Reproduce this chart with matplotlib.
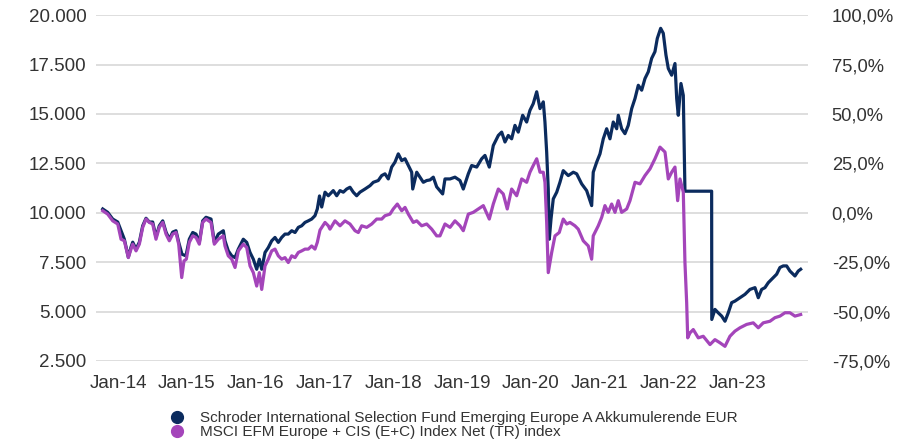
import matplotlib
matplotlib.use("Agg")
import matplotlib.pyplot as plt
from matplotlib.lines import Line2D
from matplotlib.ticker import FuncFormatter, FixedLocator

# ---------------- data ----------------
fund_name = "Schroder International Selection Fund Emerging Europe A Akkumulerende EUR"
index_name = "MSCI EFM Europe + CIS (E+C) Index Net (TR) index"

fund_t = [2013.778, 2013.850, 2013.923, 2013.996, 2014.044, 2014.092, 2014.150, 2014.189, 2014.214, 2014.262,
          2014.310, 2014.359, 2014.407, 2014.455, 2014.504, 2014.552, 2014.600, 2014.650, 2014.698, 2014.746,
          2014.795, 2014.843, 2014.882, 2014.930, 2014.988, 2015.036, 2015.086, 2015.134, 2015.182, 2015.231,
          2015.279, 2015.352, 2015.400, 2015.458, 2015.531, 2015.555, 2015.603, 2015.653, 2015.701, 2015.749,
          2015.821, 2015.871, 2015.919, 2015.967, 2016.016, 2016.054, 2016.089, 2016.137, 2016.185, 2016.234,
          2016.282, 2016.330, 2016.379, 2016.427, 2016.475, 2016.525, 2016.573, 2016.621, 2016.670, 2016.718,
          2016.766, 2016.815, 2016.863, 2016.897, 2016.929, 2016.961, 2017.009, 2017.057, 2017.129, 2017.179,
          2017.227, 2017.275, 2017.324, 2017.372, 2017.420, 2017.469, 2017.517, 2017.590, 2017.663, 2017.711,
          2017.783, 2017.833, 2017.881, 2017.929, 2017.978, 2018.026, 2018.074, 2018.124, 2018.172, 2018.220,
          2018.269, 2018.284, 2018.342, 2018.390, 2018.438, 2018.487, 2018.535, 2018.583, 2018.632, 2018.719,
          2018.753, 2018.826, 2018.898, 2018.971, 2019.019, 2019.092, 2019.141, 2019.214, 2019.286, 2019.334,
          2019.397, 2019.455, 2019.528, 2019.577, 2019.625, 2019.673, 2019.722, 2019.770, 2019.818, 2019.882,
          2019.940, 2019.988, 2020.036, 2020.086, 2020.134, 2020.182, 2020.206, 2020.231, 2020.254, 2020.269,
          2020.294, 2020.327, 2020.377, 2020.424, 2020.472, 2020.545, 2020.618, 2020.667, 2020.740, 2020.812,
          2020.885, 2020.908, 2020.958, 2021.006, 2021.054, 2021.103, 2021.151, 2021.199, 2021.249, 2021.272,
          2021.321, 2021.369, 2021.417, 2021.467, 2021.515, 2021.563, 2021.612, 2021.660, 2021.708, 2021.757,
          2021.805, 2021.839, 2021.888, 2021.926, 2021.965, 2021.999, 2022.048, 2022.096, 2022.121, 2022.144,
          2022.183, 2022.217, 2022.241, 2022.629, 2022.631, 2022.677, 2022.724, 2022.775, 2022.823, 2022.871,
          2022.920, 2022.968, 2023.041, 2023.113, 2023.186, 2023.259, 2023.307, 2023.356, 2023.404, 2023.452,
          2023.525, 2023.574, 2023.622, 2023.670, 2023.719, 2023.767, 2023.840, 2023.888, 2023.923]
fund_v = [10190, 10020, 9680, 9530, 9090, 8660, 7750, 8260, 8510, 8160,
          8510, 9340, 9720, 9530, 9530, 8770, 9340, 9590, 9020, 8660,
          9020, 9090, 8510, 7900, 7820, 8660, 9000, 8920, 8510, 9590,
          9770, 9680, 8510, 8920, 9090, 8580, 8070, 7820, 7730, 8160,
          8660, 8500, 7990, 7650, 7140, 7650, 7140, 7990, 8240, 8580,
          8750, 8500, 8750, 8920, 8920, 9090, 9000, 9260, 9340, 9510,
          9590, 9680, 9850, 10190, 10850, 10290, 11040, 10860, 11120, 10860,
          11120, 11040, 11200, 11290, 11040, 10860, 11040, 11200, 11370, 11540,
          11630, 11880, 11970, 11710, 12310, 12560, 12980, 12640, 12730, 12390,
          12050, 11200, 12050, 11800, 11540, 11630, 11660, 11800, 11310, 10950,
          11710, 11710, 11800, 11630, 11200, 11970, 12390, 12310, 12730, 12900,
          12310, 13400, 13910, 14080, 13580, 13910, 13740, 14420, 14080, 14930,
          14590, 15180, 15520, 16120, 15270, 15610, 14590, 13070, 11200, 8660,
          9680, 10700, 11040, 11540, 12130, 11880, 12050, 11970, 11460, 11120,
          10360, 12050, 12560, 12980, 13740, 14250, 13740, 14590, 14250, 14930,
          14250, 14000, 14420, 15270, 15780, 16450, 16200, 16790, 17130, 17810,
          18150, 18820, 19330, 19080, 17980, 17300, 16960, 17550, 15780, 14930,
          16540, 15940, 11090, 11090, 4600, 5110, 4940, 4770, 4510, 4940,
          5450, 5530, 5700, 5870, 6120, 6210, 5700, 6120, 6210, 6460,
          6720, 6890, 7230, 7310, 7310, 7050, 6800, 7050, 7140]

index_t = [2013.778, 2013.850, 2013.923, 2013.996, 2014.044, 2014.092, 2014.150, 2014.189, 2014.214, 2014.262,
           2014.310, 2014.359, 2014.407, 2014.455, 2014.504, 2014.552, 2014.600, 2014.650, 2014.698, 2014.746,
           2014.795, 2014.843, 2014.882, 2014.926, 2014.959, 2014.993, 2015.036, 2015.086, 2015.134, 2015.182,
           2015.231, 2015.279, 2015.352, 2015.400, 2015.458, 2015.531, 2015.555, 2015.603, 2015.653, 2015.701,
           2015.749, 2015.821, 2015.871, 2015.919, 2015.967, 2016.016, 2016.054, 2016.089, 2016.137, 2016.185,
           2016.234, 2016.282, 2016.330, 2016.379, 2016.427, 2016.475, 2016.525, 2016.573, 2016.621, 2016.670,
           2016.718, 2016.766, 2016.815, 2016.863, 2016.897, 2016.936, 2017.009, 2017.057, 2017.081, 2017.154,
           2017.227, 2017.299, 2017.372, 2017.445, 2017.493, 2017.542, 2017.615, 2017.688, 2017.760, 2017.833,
           2017.881, 2017.953, 2018.001, 2018.060, 2018.124, 2018.172, 2018.220, 2018.292, 2018.342, 2018.414,
           2018.487, 2018.560, 2018.632, 2018.680, 2018.753, 2018.826, 2018.898, 2018.971, 2019.019, 2019.092,
           2019.164, 2019.237, 2019.310, 2019.397, 2019.455, 2019.528, 2019.600, 2019.658, 2019.722, 2019.795,
           2019.868, 2019.940, 2019.988, 2020.036, 2020.086, 2020.134, 2020.182, 2020.206, 2020.231, 2020.254,
           2020.304, 2020.352, 2020.414, 2020.472, 2020.522, 2020.570, 2020.642, 2020.690, 2020.763, 2020.836,
           2020.885, 2020.908, 2020.981, 2021.031, 2021.078, 2021.126, 2021.176, 2021.224, 2021.272, 2021.321,
           2021.394, 2021.442, 2021.515, 2021.587, 2021.660, 2021.733, 2021.805, 2021.878, 2021.951, 2021.999,
           2022.048, 2022.096, 2022.135, 2022.169, 2022.217, 2022.241, 2022.266, 2022.281, 2022.314, 2022.362,
           2022.435, 2022.507, 2022.605, 2022.677, 2022.750, 2022.823, 2022.895, 2022.968, 2023.041, 2023.138,
           2023.234, 2023.307, 2023.379, 2023.477, 2023.549, 2023.622, 2023.695, 2023.767, 2023.840, 2023.923]
index_v = [10100, 9930, 9590, 9430, 8660, 8580, 7730, 8160, 8410, 8070,
           8410, 9260, 9680, 9510, 9430, 8660, 9260, 9510, 8920, 8580,
           8920, 9000, 8410, 6720, 7560, 7650, 8500, 8830, 8750, 8410,
           9510, 9680, 9510, 8410, 8660, 8830, 8320, 7820, 7650, 7230,
           8070, 8410, 8240, 7310, 6970, 6290, 6970, 6120, 7310, 7650,
           8070, 8160, 7820, 7650, 7730, 7480, 7820, 7730, 7990, 8070,
           8160, 8160, 8320, 8160, 8500, 9120, 9510, 9340, 9170, 9590,
           9340, 9590, 9430, 9090, 9000, 9340, 9260, 9430, 9680, 9680,
           9850, 9930, 10190, 10440, 10100, 10270, 9930, 9510, 9590, 9340,
           9430, 9170, 8830, 8830, 9430, 9260, 9590, 9340, 9090, 9930,
           10020, 10190, 10360, 9680, 10440, 11200, 10950, 10190, 11200, 10860,
           11710, 11540, 12050, 12390, 12730, 12050, 12050, 11540, 9510, 6970,
           7990, 8830, 9000, 9680, 9430, 9510, 9340, 9170, 8580, 8320,
           7650, 8830, 9340, 9770, 10360, 10020, 10440, 10020, 10610, 10020,
           10190, 10610, 11540, 11460, 11880, 12220, 12730, 13320, 13070, 11710,
           12050, 12310, 10610, 11710, 11040, 7480, 5450, 3670, 3920, 4090,
           3670, 3750, 3330, 3580, 3420, 3240, 3750, 4010, 4180, 4350,
           4430, 4180, 4430, 4510, 4690, 4770, 4940, 4940, 4770, 4850]

year_ticks = [2014, 2015, 2016, 2017, 2018, 2019, 2020, 2021, 2022, 2023]
year_labels = ["Jan-14", "Jan-15", "Jan-16", "Jan-17", "Jan-18",
               "Jan-19", "Jan-20", "Jan-21", "Jan-22", "Jan-23"]
left_ticks = [2500, 5000, 7500, 10000, 12500, 15000, 17500, 20000]
right_ticks = [-0.75, -0.50, -0.25, 0.0, 0.25, 0.50, 0.75, 1.00]

# ---------------- styling ----------------
NAVY = "#0b2b5e"
PURPLE = "#a445ba"
GRID = "#dedede"
TEXT = "#333333"

plt.rcParams["font.family"] = ["Liberation Sans", "DejaVu Sans"]

fig = plt.figure(figsize=(8.98, 4.44), dpi=100)
ax = fig.add_axes([0.1069, 0.187, 0.7929, 0.779])

ax.plot(fund_t, fund_v, color=NAVY, lw=2.3, zorder=3, solid_joinstyle="round")
ax.plot(index_t, index_v, color=PURPLE, lw=2.3, zorder=4, solid_joinstyle="round")

ax.set_xlim(2013.68, 2024.03)
ax.set_ylim(2500, 20000)
ax.yaxis.set_major_locator(FixedLocator(left_ticks))
ax.yaxis.set_major_formatter(FuncFormatter(lambda v, p: f"{int(round(v)):,}".replace(",", ".")))
ax.set_xticks(year_ticks)
ax.set_xticklabels(year_labels, fontsize=13.5, color=TEXT)
ax.grid(axis="y", color=GRID, lw=1.4, zorder=0)
ax.tick_params(axis="y", length=0, pad=7, labelsize=13.5, labelcolor=TEXT)
ax.tick_params(axis="x", length=0, pad=10)
for s in ax.spines.values():
    s.set_visible(False)

ax2 = ax.twinx()
ax2.set_ylim(-0.75, 1.0)
ax2.yaxis.set_major_locator(FixedLocator(right_ticks))
ax2.yaxis.set_major_formatter(FuncFormatter(lambda v, p: f"{v*100:.1f}%".replace(".", ",")))
ax2.tick_params(axis="y", length=0, pad=17, labelsize=13.2, labelcolor=TEXT)
for s in ax2.spines.values():
    s.set_visible(False)

handles = [Line2D([], [], ls="none", marker="o", markersize=8.5, color=NAVY),
           Line2D([], [], ls="none", marker="o", markersize=8.5, color=PURPLE)]
fig.legend(handles, [fund_name, index_name], loc="upper left",
           bbox_to_anchor=(0.1822, 0.0913), frameon=False, borderpad=0,
           handlelength=0.8, handletextpad=1.1, labelspacing=0.0,
           prop={"size": 11}, labelcolor=TEXT)

fig.savefig("out.png", dpi=100)
